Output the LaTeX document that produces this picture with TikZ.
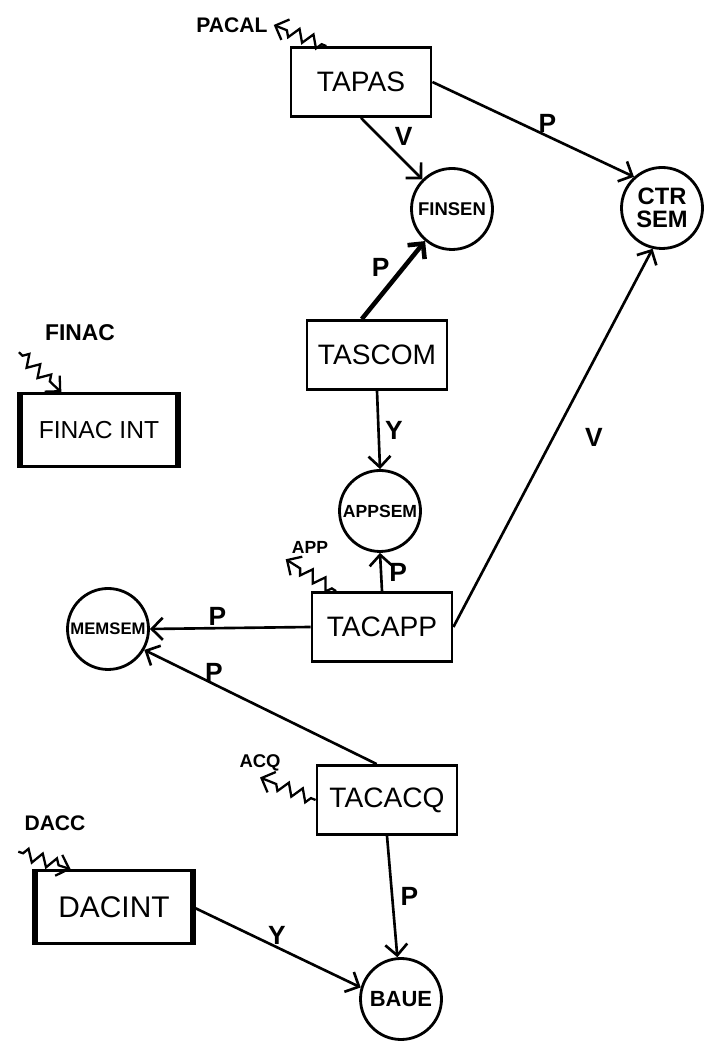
\documentclass[tikz,border=0pt]{standalone}
\usepackage{fontspec}
\setsansfont{Liberation Sans}
\usetikzlibrary{arrows.meta,decorations.pathmorphing}
\begin{document}
\begin{tikzpicture}[scale=1,
  box/.style={draw,line width=1.6pt,minimum width=2.8cm,minimum height=1.38cm,font=\sffamily\fontsize{16}{16}\selectfont},
  intbox/.style={draw,line width=1.6pt,minimum width=3.1cm,minimum height=1.45cm},
  place/.style={draw,circle,line width=1.6pt,minimum size=1.62cm,inner sep=0pt},
  arc/.style={line width=1.5pt,-{Straight Barb[length=2.2mm]}},
  sig/.style={line width=1.3pt,-{Straight Barb[length=2.2mm]},decorate,decoration={zigzag,segment length=3mm,amplitude=1.2mm,pre length=1mm,post length=2.5mm}},
  lab/.style={inner sep=1pt,font=\sffamily\bfseries\fontsize{15}{15}\selectfont},
  ext/.style={font=\sffamily\bfseries\fontsize{12}{12}\selectfont}]
\useasboundingbox (0,0) rectangle (14.5,20.82);
% transitions and places
\foreach \n/\x/\y in {TAPAS/7.22/19.18,TASCOM/7.54/13.72,TACAPP/7.64/8.28,TACACQ/7.74/4.82}{\node[box] (\n) at (\x,\y) {\n};}
\foreach \n/\x/\y/\s in {FINSEN/9.04/16.64/10.5,APPSEM/7.60/10.60/10,MEMSEM/2.16/8.24/9.5,BAUE/8.02/0.84/12.5}{\node[place,font=\sffamily\bfseries\fontsize{\s}{\s}\selectfont] (\n) at (\x,\y) {\n};}
\node[place,align=center,font=\sffamily\bfseries\fontsize{13.5}{13}\selectfont] (CTRSEM) at (13.24,16.66) {CTR\\SEM};
\node[intbox,font=\sffamily\fontsize{14}{14}\selectfont] (FINACINT) at (1.98,12.22) {FINAC INT};
\node[intbox,font=\sffamily\fontsize{17}{17}\selectfont] (DACINT) at (2.28,2.68) {DACINT};
\foreach \b in {FINACINT,DACINT}{\draw[line width=3.5pt] (\b.north west)--(\b.south west); \draw[line width=3.5pt] (\b.north east)--(\b.south east);}
% outside signals
\node[ext] (PACAL) at (4.64,20.32) {PACAL};
\node[ext,font=\sffamily\bfseries\fontsize{13}{13}\selectfont] (FINAC) at (1.60,14.16) {FINAC};
\node[ext,font=\sffamily\bfseries\fontsize{10}{10}\selectfont] (APP) at (6.20,9.88) {APP};
\node[ext,font=\sffamily\bfseries\fontsize{10.5}{10.5}\selectfont] (ACQ) at (5.20,5.56) {ACQ};
\node[ext] (DACC) at (1.10,4.36) {DACC};
\draw[sig] (TAPAS.134) -- (PACAL.east);
\draw[sig] ([shift={(-0.4,-0.1)}]FINAC.south west) -- (FINACINT.135);
\draw[sig] (TACAPP.142) -- (APP.south west);
\draw[sig] (TACACQ.west) -- (ACQ.south);
\draw[sig] ([yshift=-3mm]DACC.south west) -- (DACINT.139);
% arcs
\draw[arc] (TAPAS.south) -- (FINSEN.135) node[lab,midway,above right] {V};
\draw[arc] (TAPAS.east) -- (CTRSEM.132) node[lab,pos=.57,above] {P};
\draw[arc,line width=2.6pt] (TASCOM.113) -- (FINSEN.230) node[lab,midway,above left] {P};
\draw[arc] (TASCOM.south) -- (APPSEM.north) node[lab,midway,right=2pt] {Y};
\draw[arc] (TACAPP.north) -- (APPSEM.south) node[lab,midway,right=3pt] {P};
\draw[arc] (TACAPP.east) -- (CTRSEM.257) node[lab,midway,right=0.58cm] {V};
\draw[arc] (TACAPP.west) -- (MEMSEM.east) node[lab,pos=.58,above] {P};
\draw[arc] (TACACQ.106) -- (MEMSEM.-30) node[lab,pos=.7,above] {P};
\draw[arc] (TACACQ.south) -- (BAUE.95) node[lab,midway,right=3pt] {P};
\draw[arc] (DACINT.east) -- (BAUE.164) node[lab,midway,above] {Y};
\end{tikzpicture}
\end{document}
